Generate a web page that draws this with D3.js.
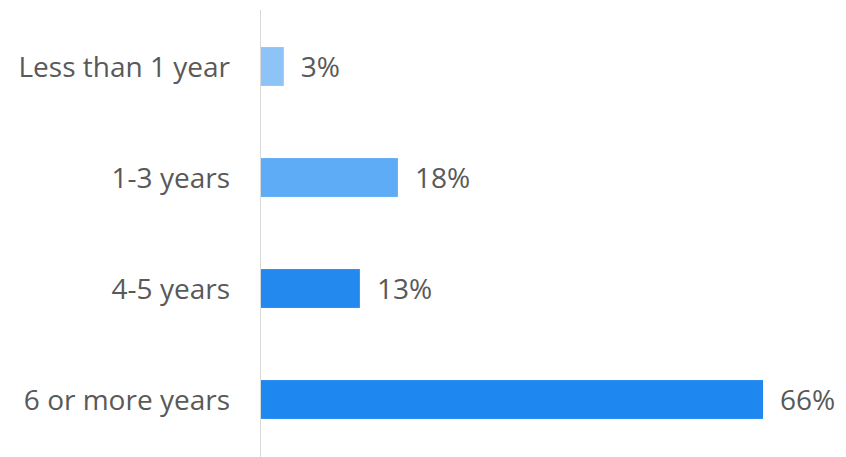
<!DOCTYPE html>
<html>
<head>
<meta charset="utf-8">
<script src="https://cdn.jsdelivr.net/npm/d3@7"></script>
<style>
  html, body { margin: 0; padding: 0; background: #ffffff; }
  svg { display: block; }
  text { font-family: "Open Sans", "Noto Sans", sans-serif; fill: #595959; }
</style>
</head>
<body>
<svg id="chart" width="846" height="457"></svg>
<script>
// Years of experience distribution
const categories = ["Less than 1 year", "1-3 years", "4-5 years", "6 or more years"];
const values = [3, 18, 13, 66];
const barColors = ["#8ec3f7", "#5eacf5", "#2389ef", "#1f87f0"];

const width = 846, height = 457;
const fontSize = "28px";
const svg = d3.select("#chart");

const x = d3.scaleLinear().domain([0, 66]).range([261, 763]);
const y = d3.scaleBand().domain(categories).range([11, 455]).paddingInner(0.65).paddingOuter(0.325);

// vertical baseline
svg.append("line")
  .attr("x1", 260.5).attr("x2", 260.5)
  .attr("y1", 10).attr("y2", height)
  .attr("stroke", "#d9d9d9").attr("stroke-width", 1);

// category axis (labels only)
const axis = d3.axisLeft(y).tickSize(0).tickPadding(31);
const gAxis = svg.append("g").attr("transform", "translate(261,0)").call(axis);
gAxis.select(".domain").remove();
gAxis.selectAll("text")
  .style("font-family", '"Open Sans", "Noto Sans", sans-serif')
  .style("font-size", fontSize)
  .attr("dy", "0.38em")
  .attr("fill", "#595959");

// bars
svg.selectAll("rect.bar")
  .data(values)
  .join("rect")
  .attr("class", "bar")
  .attr("x", x(0))
  .attr("y", (d, i) => y(categories[i]))
  .attr("width", d => x(d) - x(0))
  .attr("height", y.bandwidth())
  .attr("fill", (d, i) => barColors[i]);

// value labels
svg.selectAll("text.val")
  .data(values)
  .join("text")
  .attr("class", "val")
  .attr("x", d => x(d) + 17)
  .attr("y", (d, i) => y(categories[i]) + y.bandwidth() / 2)
  .attr("dy", "0.38em")
  .style("font-size", fontSize)
  .text(d => d + "%");
</script>
</body>
</html>
